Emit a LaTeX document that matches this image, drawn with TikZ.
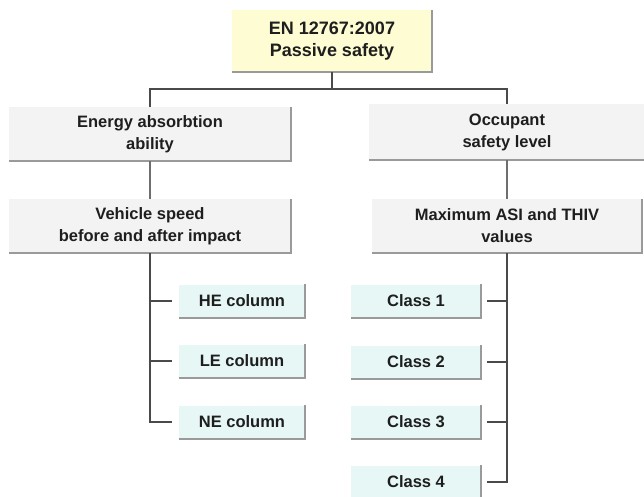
\documentclass[tikz,border=0pt]{standalone}
\usepackage{fontspec}
\setmainfont{Liberation Sans}
\definecolor{titlefill}{HTML}{FDFCD2}
\definecolor{bigfill}{HTML}{F3F3F3}
\definecolor{smallfill}{HTML}{E6F7F6}
\definecolor{shadowc}{HTML}{9A9A9A}
\definecolor{linec}{HTML}{4A4A4A}
\definecolor{textc}{HTML}{1E1E1E}
\begin{document}
\begin{tikzpicture}[x=1pt,y=-1pt,
  base/.style={inner sep=0pt, align=center, text=textc, font=\fontsize{16.5}{22}\selectfont\bfseries},
  titlebox/.style={base, fill=titlefill, minimum width=200pt, minimum height=62pt, font=\fontsize{18}{22}\selectfont\bfseries},
  bigbox/.style={base, fill=bigfill, minimum width=282pt, minimum height=54pt},
  smallbox/.style={base, fill=smallfill, minimum width=126pt, minimum height=33pt},
  shadowline/.style={draw=shadowc, line width=1.6pt},
  conn/.style={draw=linec, line width=2.2pt},
  tick/.style={draw=linec, line width=1.8pt}]
\useasboundingbox (0,0) rectangle (644,496);
\fill[white] (0,0) rectangle (644,496);
% boxes
\node[titlebox] (top) at (332,41) {EN 12767:2007\\Passive safety};
\node[bigbox] (energy) at (150,134) {Energy absorbtion\\ability};
\node[bigbox, minimum width=276pt, minimum height=56pt] (occ) at (507,132) {Occupant\\safety level};
\node[bigbox] (speed) at (150,226) {Vehicle speed\\before and after impact};
\node[bigbox, minimum width=270pt] (maxv) at (507,226) {Maximum ASI and THIV\\values};
\node[smallbox] (he) at (242,301) {HE column};
\node[smallbox] (le) at (242,361) {LE column};
\node[smallbox] (ne) at (242,422) {NE column};
\node[smallbox, minimum width=130pt] (c1) at (416,301) {Class 1};
\node[smallbox, minimum width=130pt] (c2) at (416,362) {Class 2};
\node[smallbox, minimum width=130pt] (c3) at (416,422) {Class 3};
\node[smallbox, minimum width=130pt] (c4) at (416,482) {Class 4};
% shadows
\foreach \n in {top,energy,occ,speed,maxv,he,le,ne,c1,c2,c3,c4}
  \draw[shadowline] (\n.south west) -- (\n.south east) -- (\n.north east);
% connectors
\coordinate (bus) at (332,89);
\draw[conn] (top.south) -- (bus);
\draw[conn] (energy.north) |- (bus);
\draw[conn] (occ.north) |- (bus);
\draw[conn, draw=linec!80] (energy.south) -- (speed.north);
\draw[conn, draw=linec!80] (occ.south) -- (maxv.north);
\draw[conn, shorten >=7pt] (speed.south) |- (ne.west);
\draw[tick, shorten >=7pt] (he.west -| speed.south) -- (he.west);
\draw[tick, shorten >=7pt] (le.west -| speed.south) -- (le.west);
\draw[conn, shorten >=6pt] (maxv.south) |- (c4.east);
\draw[tick, shorten >=6pt] (c1.east -| maxv.south) -- (c1.east);
\draw[tick, shorten >=6pt] (c2.east -| maxv.south) -- (c2.east);
\draw[tick, shorten >=6pt] (c3.east -| maxv.south) -- (c3.east);
\end{tikzpicture}
\end{document}
